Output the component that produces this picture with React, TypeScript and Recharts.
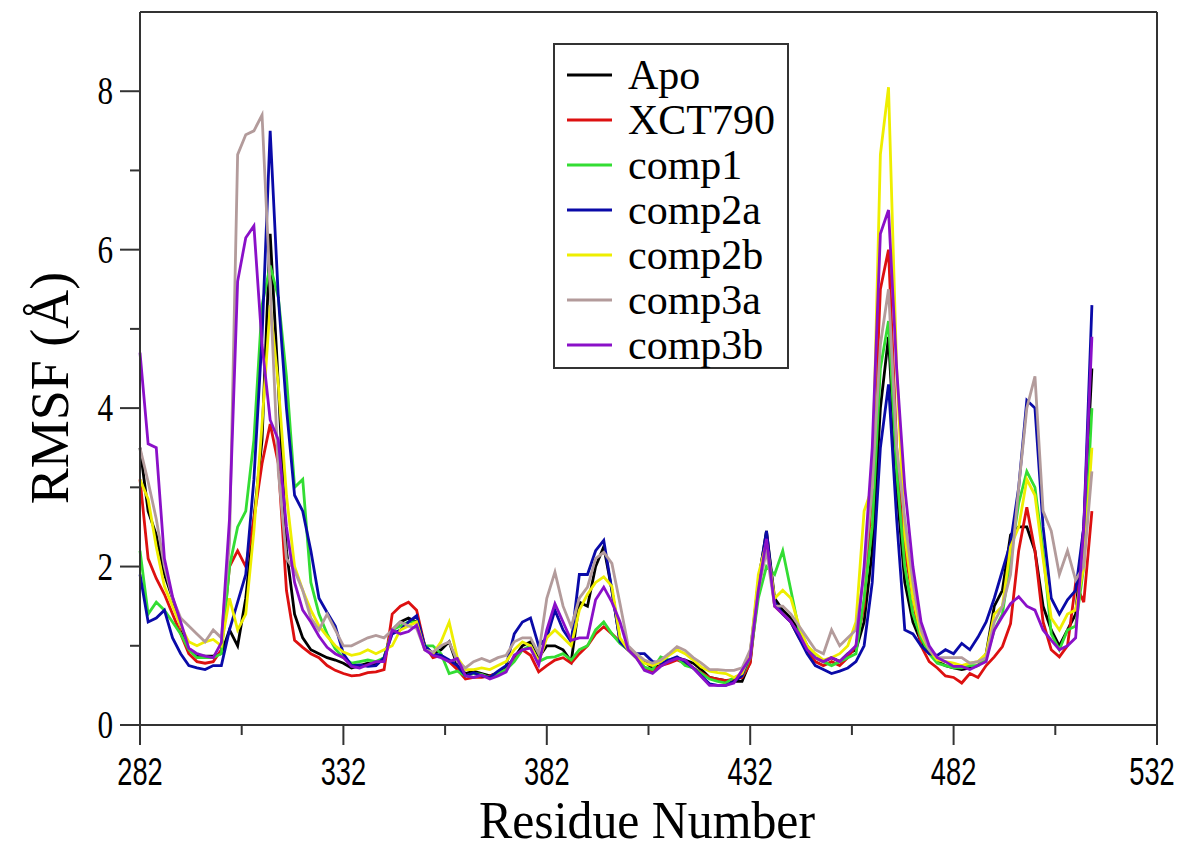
import React from 'react';
import { LineChart, Line, XAxis, YAxis, ReferenceLine, Legend } from 'recharts';

// Residue numbers (every second residue, 282 .. 516)
const residues: number[] = Array.from({ length: 118 }, (_, i) => 282 + 2 * i);

const xTicks = [282, 307, 332, 357, 382, 407, 432, 457, 482, 507, 532];
const yTicks = [0, 1, 2, 3, 4, 5, 6, 7, 8];

const seriesNames = ['Apo', 'XCT790', 'comp1', 'comp2a', 'comp2b', 'comp3a', 'comp3b'];
const seriesColors = ['#000000', '#dd1010', '#33dd33', '#0a0aa8', '#eeee00', '#b39b9b', '#8a10c8'];

const apo = [
  3.5, 2.7, 2.4, 1.9, 1.6, 1.25, 0.95, 0.87, 0.87, 0.87,
  0.9, 1.2, 1.0, 1.6, 2.6, 3.6, 6.2, 4.3, 2.2, 1.4,
  1.1, 0.95, 0.9, 0.85, 0.82, 0.78, 0.72, 0.75, 0.78, 0.76,
  0.85, 1.2, 1.3, 1.35, 1.3, 1.0, 0.9, 0.95, 1.05, 0.75,
  0.65, 0.68, 0.65, 0.62, 0.66, 0.72, 0.85, 1.0, 1.05, 0.85,
  1.0, 1.0, 0.95, 0.8, 1.55, 1.5, 2.0, 2.25, 1.7, 1.05,
  0.95, 0.85, 0.8, 0.72, 0.75, 0.8, 0.85, 0.82, 0.78, 0.7,
  0.6, 0.58, 0.56, 0.55, 0.55, 0.8, 1.8, 2.45, 1.6, 1.45,
  1.35, 1.2, 1.0, 0.85, 0.8, 0.85, 0.8, 0.9, 0.95, 1.3,
  2.2, 4.0, 4.9, 3.0, 1.8, 1.3, 1.05, 0.9, 0.8, 0.75,
  0.72, 0.7, 0.72, 0.75, 0.9, 1.5, 1.7, 2.4, 2.5, 2.5,
  2.2, 1.5, 1.2, 1.0, 1.2, 1.4, 2.5, 4.5,
];

const xct790 = [
  3.1, 2.1, 1.85, 1.65, 1.4, 1.15, 0.9, 0.8, 0.78, 0.8,
  0.95, 2.0, 2.2, 2.0, 2.6, 3.3, 3.8, 3.3, 1.7, 1.07,
  0.98, 0.9, 0.85, 0.75, 0.69, 0.65, 0.62, 0.63, 0.66, 0.67,
  0.7, 1.4, 1.5, 1.55, 1.45, 1.0, 0.85, 0.88, 0.8, 0.7,
  0.58, 0.6, 0.6, 0.62, 0.65, 0.7, 0.82, 0.95, 0.88, 0.67,
  0.75, 0.82, 0.85, 0.78, 0.9, 1.0, 1.15, 1.24, 1.15, 1.05,
  0.95, 0.85, 0.72, 0.68, 0.75, 0.78, 0.82, 0.78, 0.72, 0.66,
  0.6, 0.58, 0.56, 0.58, 0.6, 0.78, 1.7, 2.4, 1.5, 1.4,
  1.3, 1.1, 0.95, 0.8, 0.75, 0.8, 0.75, 0.85, 1.0, 1.5,
  3.0, 5.5, 6.0, 3.5, 2.2, 1.6, 1.0, 0.8, 0.72, 0.62,
  0.6, 0.53, 0.65, 0.6, 0.75, 0.86, 0.99, 1.28, 2.2, 2.75,
  2.2, 1.3, 0.95, 0.86, 1.0, 1.79, 1.55, 2.7,
];

const comp1 = [
  2.2, 1.4, 1.55, 1.45, 1.3, 1.15, 0.95, 0.85, 0.85, 0.85,
  0.9, 2.0, 2.5, 2.7, 3.6, 5.3, 5.8, 5.4, 4.4, 3.0,
  3.1, 1.8, 1.4, 1.15, 0.96, 0.85, 0.78, 0.8, 0.82, 0.8,
  0.85, 1.2, 1.25, 1.3, 1.3, 1.0, 1.0, 0.9, 0.65, 0.68,
  0.62, 0.65, 0.64, 0.6, 0.65, 0.7, 0.8, 0.95, 1.0, 0.8,
  0.85, 0.86, 0.9, 0.82, 0.95, 1.0, 1.2, 1.3, 1.15, 1.03,
  0.95, 0.85, 0.73, 0.7, 0.86, 0.82, 0.85, 0.75, 0.72, 0.65,
  0.58, 0.55, 0.53, 0.6, 0.62, 0.85, 1.6, 2.0, 1.9, 2.2,
  1.7, 1.2, 1.0, 0.85, 0.8, 0.75, 0.8, 0.85, 0.9, 1.6,
  2.5, 4.5, 5.1, 3.2, 2.0, 1.4, 1.1, 0.9, 0.78, 0.75,
  0.72, 0.72, 0.75, 0.75, 0.85, 1.2, 1.4, 2.1, 2.8, 3.2,
  3.0, 2.2, 1.15, 0.95, 1.2, 1.25, 2.0, 4.0,
];

const comp2a = [
  1.9, 1.3, 1.35, 1.45, 1.1, 0.9, 0.75, 0.72, 0.7, 0.75,
  0.75, 1.2, 1.55, 1.9, 3.1, 4.9, 7.5, 5.4, 4.0, 2.9,
  2.7, 2.2, 1.6, 1.42, 1.25, 0.9, 0.75, 0.76, 0.74, 0.75,
  0.85, 1.15, 1.2, 1.3, 1.38, 1.0, 0.9, 0.88, 0.82, 0.75,
  0.62, 0.66, 0.62, 0.6, 0.68, 0.75, 1.15, 1.3, 1.35, 1.0,
  1.1, 1.45, 1.2, 1.05, 1.9, 1.9, 2.2, 2.33, 1.7, 1.05,
  0.95, 0.9, 0.9, 0.8, 0.78, 0.82, 0.86, 0.8, 0.72, 0.62,
  0.52, 0.5, 0.5, 0.55, 0.62, 0.9, 1.8, 2.45, 1.55, 1.4,
  1.3, 1.1, 0.9, 0.75, 0.7, 0.65, 0.68, 0.72, 0.8, 1.0,
  1.8, 3.5, 4.3, 2.6, 1.2, 1.15, 1.0, 0.9, 0.88, 0.95,
  0.9, 1.03, 0.95, 1.11, 1.3, 1.6, 1.95, 2.3, 3.0, 4.1,
  4.0, 2.5, 1.6, 1.4, 1.58, 1.7, 2.5, 5.3,
];

const comp2b = [
  3.1, 2.85, 2.25, 1.75, 1.5, 1.25, 1.05, 1.0, 1.05, 1.08,
  1.0, 1.6, 1.2, 1.4, 2.45, 3.8, 5.3, 4.3, 2.9, 2.0,
  1.7, 1.45, 1.25, 1.12, 1.0, 0.92, 0.88, 0.9, 0.95, 0.9,
  0.95, 1.0, 1.2, 1.25, 1.3, 0.95, 0.9, 1.05, 1.3, 0.85,
  0.7, 0.7, 0.72, 0.7, 0.75, 0.8, 0.95, 1.05, 1.0, 0.8,
  1.1, 1.2, 1.1, 1.0, 1.45, 1.65, 1.8, 1.87, 1.75, 1.1,
  0.95, 0.88, 0.78, 0.75, 0.8, 0.88, 0.95, 0.9, 0.82, 0.73,
  0.68, 0.66, 0.65, 0.6, 0.65, 0.9, 1.9, 2.3, 1.6, 1.7,
  1.6, 1.25, 1.0, 0.9, 0.82, 0.85, 0.9, 1.0, 1.3, 2.7,
  3.0, 7.2, 8.05, 4.5, 2.4, 1.6, 1.15, 0.95, 0.82, 0.8,
  0.78, 0.75, 0.78, 0.8, 0.9, 1.4, 1.5, 2.25, 2.5, 3.1,
  2.9, 2.1, 1.35, 1.2, 1.4, 1.45, 2.0, 3.5,
];

const comp3a = [
  3.5, 3.07, 2.6, 2.0, 1.6, 1.35, 1.25, 1.15, 1.05, 1.2,
  1.1, 2.3, 7.2, 7.45, 7.5, 7.7, 5.5, 3.2, 2.1, 1.95,
  1.7, 1.35, 1.2, 1.4, 1.2, 1.0, 1.0, 1.05, 1.1, 1.13,
  1.1, 1.2, 1.3, 1.25, 1.22, 0.95, 0.92, 1.0, 1.05, 0.8,
  0.72, 0.8, 0.84, 0.8, 0.85, 0.88, 1.05, 1.1, 1.1, 0.9,
  1.6, 1.93, 1.5, 1.24, 1.6, 1.74, 2.1, 2.18, 2.04, 1.53,
  1.0, 0.9, 0.82, 0.78, 0.82, 0.9, 0.99, 0.94, 0.85, 0.78,
  0.7, 0.7, 0.69, 0.69, 0.72, 0.95, 1.7, 2.2, 1.5, 1.5,
  1.4, 1.25, 1.1, 0.95, 0.9, 1.2, 1.0, 1.1, 1.2, 1.9,
  3.0, 4.8, 5.5, 3.5, 2.6, 1.8, 1.2, 0.95, 0.85, 0.85,
  0.85, 0.85, 0.78, 0.8, 0.85, 1.3, 1.5, 1.9, 3.0, 4.0,
  4.4, 2.7, 2.45, 1.9, 2.2, 1.83, 2.0, 3.2,
];

const comp3b = [
  4.7, 3.55, 3.5, 2.1, 1.62, 1.3, 0.97, 0.9, 0.87, 0.85,
  1.04, 2.6, 5.6, 6.15, 6.3, 4.8, 3.85, 3.6, 2.5, 1.8,
  1.45, 1.3, 1.12, 0.98, 0.9, 0.85, 0.74, 0.72, 0.76, 0.8,
  0.8, 1.2, 1.15, 1.18, 1.26, 0.95, 0.88, 0.85, 0.8, 0.84,
  0.62, 0.6, 0.63, 0.58, 0.62, 0.67, 0.88, 0.95, 0.97, 0.76,
  1.2, 1.53, 1.3, 1.07, 1.1, 1.1, 1.58, 1.74, 1.55, 1.3,
  0.95, 0.85, 0.69, 0.65, 0.74, 0.8, 0.84, 0.82, 0.72, 0.61,
  0.5, 0.5, 0.5, 0.53, 0.69, 0.85, 1.7, 2.35, 1.5, 1.4,
  1.3, 1.15, 0.95, 0.85, 0.8, 0.85, 0.8, 0.9, 1.0, 2.0,
  3.5, 6.2, 6.5, 4.5, 3.0, 2.0, 1.3, 1.0, 0.85, 0.8,
  0.74, 0.74, 0.7, 0.75, 0.8, 1.2, 1.37, 1.53, 1.62, 1.5,
  1.45, 1.2, 1.07, 0.95, 1.0, 1.1, 2.5, 4.9,
];

const seriesValues = [apo, xct790, comp1, comp2a, comp2b, comp3a, comp3b];

const data = residues.map((r, i) => {
  const row: Record<string, number> = { residue: r };
  seriesNames.forEach((n, k) => {
    row[n] = seriesValues[k][i];
  });
  return row;
});

const AXIS = '#333333';
const SERIF = '"Liberation Serif", "Times New Roman", serif';
const SANS = '"Liberation Sans", Arial, sans-serif';

function XTick(props: any) {
  const { x, y, payload } = props;
  const v = payload.value as number;
  const major = (v - 282) % 50 === 0;
  const shift = v === 532 ? -5 : 0;
  return (
    <g>
      <line x1={x} x2={x} y1={y} y2={y + (major ? 20 : 10)} stroke={AXIS} strokeWidth={2} />
      {major && (
        <text
          transform={`translate(${x + shift},${y + 60}) scale(0.7,1)`}
          textAnchor="middle"
          fontFamily={SANS}
          fontSize={39}
          fill="#000"
        >
          {v}
        </text>
      )}
    </g>
  );
}

function YTick(props: any) {
  const { x, y, payload } = props;
  const v = payload.value as number;
  const major = v % 2 === 0;
  return (
    <g>
      <line x1={x} x2={x - (major ? 20 : 10)} y1={y} y2={y} stroke={AXIS} strokeWidth={2} />
      {major && (
        <text
          transform={`translate(${x - 27},${y + 13}) scale(0.78,1)`}
          textAnchor="end"
          fontFamily={SERIF}
          fontSize={40}
          fill="#000"
        >
          {v}
        </text>
      )}
    </g>
  );
}

function LegendBox() {
  const rowH = 45;
  return (
    <svg width={236} height={326} style={{ display: 'block' }}>
      <rect x={1} y={1} width={234} height={324} fill="#fff" stroke={AXIS} strokeWidth={2} />
      {seriesNames.map((n, i) => (
        <g key={n}>
          <line x1={14} x2={59} y1={32 + i * rowH} y2={32 + i * rowH} stroke={seriesColors[i]} strokeWidth={3} />
          <text x={75} y={32 + i * rowH + 14} fontFamily={SERIF} fontSize={42} fill="#000">
            {n}
          </text>
        </g>
      ))}
    </svg>
  );
}

export default function App() {
  return (
    <div style={{ position: 'absolute', left: 0, top: 0, width: 1177, height: 848, background: '#fff' }}>
      <LineChart width={1177} height={848} data={data} margin={{ top: 12, right: 20, bottom: 0, left: 0 }}>
        <XAxis
          dataKey="residue"
          type="number"
          domain={[282, 532]}
          ticks={xTicks}
          interval={0}
          height={123}
          tickSize={0}
          tickMargin={0}
          tickLine={false}
          axisLine={{ stroke: AXIS, strokeWidth: 2 }}
          tick={<XTick />}
          label={{
            content: () => (
              <text
                transform="translate(647,838) scale(0.94,1)"
                textAnchor="middle"
                fontFamily={SERIF}
                fontSize={53}
                fill="#000"
              >
                Residue Number
              </text>
            ),
          }}
        />
        <YAxis
          type="number"
          domain={[0, 9]}
          ticks={yTicks}
          interval={0}
          width={140}
          tickSize={0}
          tickMargin={0}
          tickLine={false}
          axisLine={{ stroke: AXIS, strokeWidth: 2 }}
          tick={<YTick />}
          label={{
            content: () => (
              <text
                transform="translate(68,388) rotate(-90)"
                textAnchor="middle"
                fontFamily={SERIF}
                fontSize={54}
                fill="#000"
              >
                RMSF (Å)
              </text>
            ),
          }}
        />
        <ReferenceLine y={9} stroke={AXIS} strokeWidth={2} />
        <ReferenceLine x={532} stroke={AXIS} strokeWidth={2} />
        {seriesNames.map((n, i) => (
          <Line
            key={n}
            dataKey={n}
            name={n}
            type="linear"
            stroke={seriesColors[i]}
            strokeWidth={2.8}
            dot={false}
            activeDot={false}
            isAnimationActive={false}
          />
        ))}
        <Legend
          layout="horizontal"
          verticalAlign="middle"
          align="center"
          content={() => <LegendBox />}
          wrapperStyle={{ position: 'absolute', left: 553, top: 43, width: 236, height: 326 }}
        />
      </LineChart>
    </div>
  );
}
